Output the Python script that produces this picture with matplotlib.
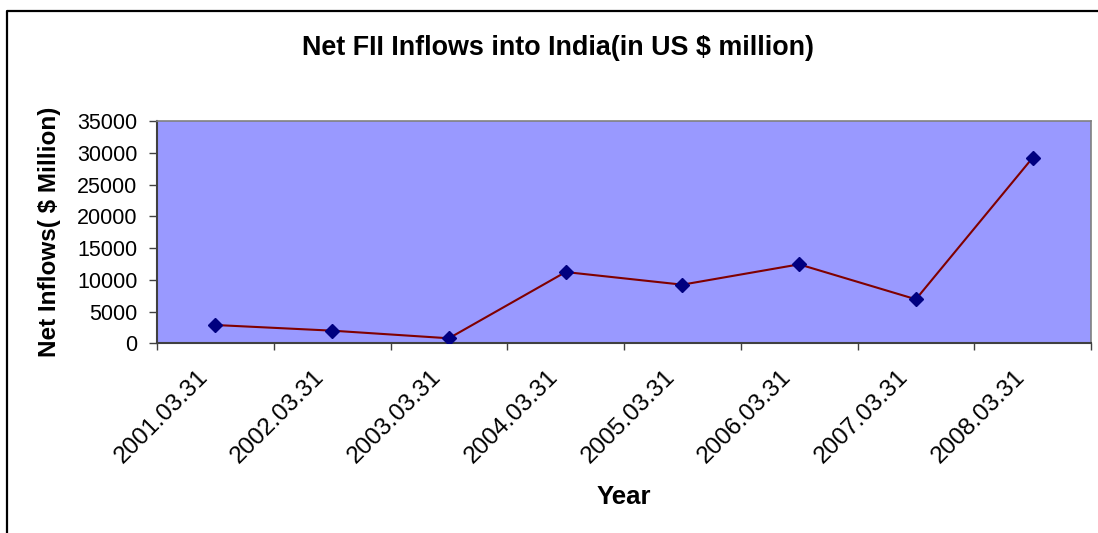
import matplotlib
matplotlib.use("Agg")
import matplotlib.pyplot as plt
from matplotlib.lines import Line2D
import matplotlib.transforms as mtransforms

plt.rcParams['font.family'] = ['Liberation Sans', 'DejaVu Sans']

# Net FII inflows, US $ million, fiscal year ending 31 March
years = ["2001.03.31", "2002.03.31", "2003.03.31", "2004.03.31",
         "2005.03.31", "2006.03.31", "2007.03.31", "2008.03.31"]
inflows = [2880, 1990, 790, 11220, 9230, 12430, 6930, 29210]
y_ticks = [0, 5000, 10000, 15000, 20000, 25000, 30000, 35000]

W, H = 1098, 533
fig = plt.figure(figsize=(W / 100, H / 100), dpi=100)
fig.patch.set_facecolor("white")

ax = fig.add_axes([157 / W, 1 - 343.3 / H, (1091 - 157) / W, (343.3 - 121) / H])
ax.set_facecolor("#9999FF")

xs = [i + 0.5 for i in range(len(years))]
ax.plot(xs, inflows, color="#800000", linewidth=1.5, zorder=3)
ax.plot(xs, inflows, linestyle="none", marker="D", markersize=7.5,
        markerfacecolor="#000080", markeredgecolor="#000080", zorder=4)

ax.set_xlim(0, len(years))
ax.set_ylim(0, 35000)

# Category boundaries carry the tick marks; labels sit at category centres
ax.set_xticks(range(len(years) + 1))
ax.set_xticklabels([])
ax.set_xticks(xs, minor=True)
ax.set_xticklabels(years, minor=True, rotation=45, ha="right", va="center",
                   rotation_mode="anchor", fontsize=17.5)
ax.tick_params(axis="x", which="minor", length=0, pad=22)
ax.tick_params(axis="x", which="major", direction="out", length=5,
               width=1, color="#404040")
offset = mtransforms.ScaledTranslation(-11 / 100, 0, fig.dpi_scale_trans)
for lbl in ax.get_xticklabels(minor=True):
    lbl.set_transform(lbl.get_transform() + offset)

ax.set_yticks(y_ticks)
ax.set_yticklabels([str(v) for v in y_ticks], fontsize=15.5)
ax.tick_params(axis="y", direction="out", length=6, width=1,
               color="#404040", pad=8)

for side in ("left", "bottom"):
    ax.spines[side].set_color("#404040")
    ax.spines[side].set_linewidth(1.5)
for side in ("top", "right"):
    ax.spines[side].set_color("#808080")
    ax.spines[side].set_linewidth(1.2)

fig.text(558 / W, 1 - 48 / H, "Net FII Inflows into India(in US $ million)",
         ha="center", va="center", fontsize=19.4, fontweight="bold")
fig.text(49.5 / W, 1 - 232 / H, "Net Inflows( $ Million)", rotation=90,
         ha="center", va="center", fontsize=17.5, fontweight="bold")
fig.text(624 / W, 1 - 497 / H, "Year", ha="center", va="center",
         fontsize=18.5, fontweight="bold")

# Outer chart frame (left and top edges)
fig.add_artist(Line2D([7 / W, 7 / W, 1.0], [0.0, 1 - 11 / H, 1 - 11 / H],
                      transform=fig.transFigure, color="black", linewidth=1.6))

fig.savefig("out.png", dpi=100)
